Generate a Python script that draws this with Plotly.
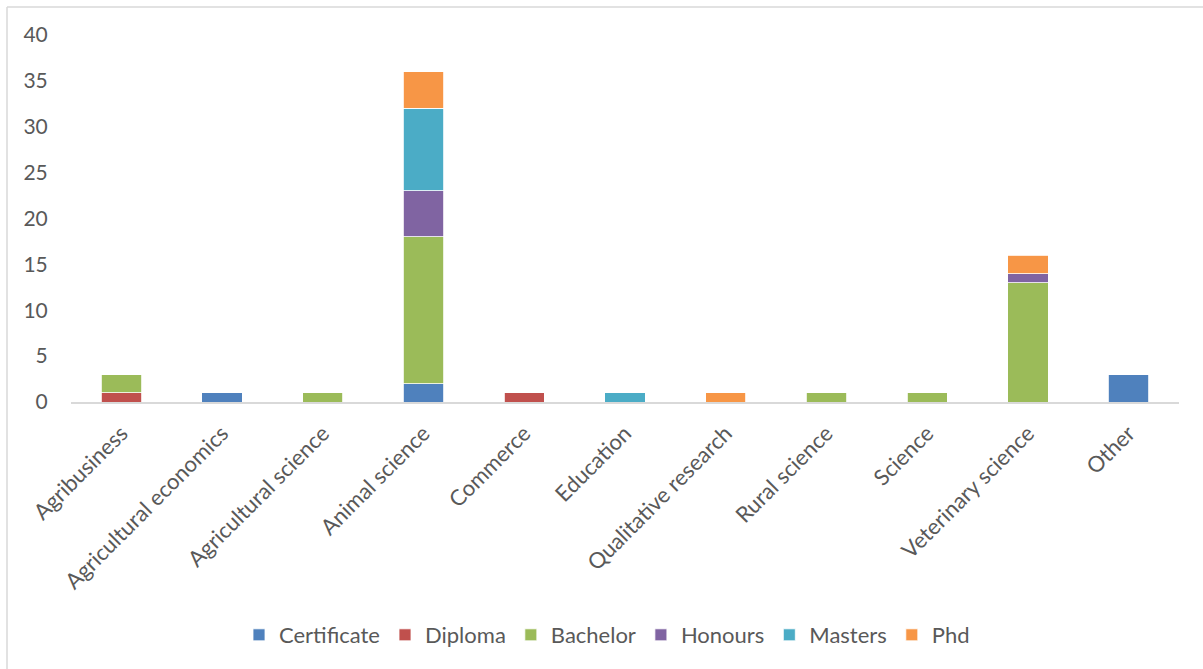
import plotly.graph_objects as go

# Field of study (categories on the x axis)
fields = [
    "Agribusiness", "Agricultural economics", "Agricultural science",
    "Animal science", "Commerce", "Education", "Qualitative research",
    "Rural science", "Science", "Veterinary science", "Other",
]

# Counts per qualification level, one value per field
certificate = [0, 1, 0, 2, 0, 0, 0, 0, 0, 0, 3]
diploma     = [1, 0, 0, 0, 1, 0, 0, 0, 0, 0, 0]
bachelor    = [2, 0, 1, 16, 0, 0, 0, 1, 1, 13, 0]
honours     = [0, 0, 0, 5, 0, 0, 0, 0, 0, 1, 0]
masters     = [0, 0, 0, 9, 0, 1, 0, 0, 0, 0, 0]
phd         = [0, 0, 0, 4, 0, 0, 1, 0, 0, 2, 0]

series_names = ["Certificate", "Diploma", "Bachelor", "Honours", "Masters", "Phd"]
series_values = [certificate, diploma, bachelor, honours, masters, phd]
series_colors = ["#4F81BD", "#C0504D", "#9BBB59", "#8064A2", "#4BACC6", "#F79646"]

FONT = "Lato"
TEXT = "#595959"

fig = go.Figure()
for name, vals, col in zip(series_names, series_values, series_colors):
    fig.add_trace(go.Bar(
        name=name, x=fields, y=vals,
        marker=dict(color=col, line=dict(color="white", width=0.8)),
    ))

# Plot area geometry in pixels (used for the frame around the chart)
W, H = 1203, 669
L, R, T, B = 71, 24, 35, 267
pw, ph = W - L - R, H - T - B

def px_x(x):
    return (x - L) / pw

def px_y(y):
    return (H - B - y) / ph

frame = "#D9D9D9"
fig.add_shape(type="line", xref="paper", yref="paper",
              x0=px_x(7), x1=px_x(W + 5), y0=px_y(7), y1=px_y(7),
              line=dict(color=frame, width=1.5))
fig.add_shape(type="line", xref="paper", yref="paper",
              x0=px_x(7), x1=px_x(7), y0=px_y(7), y1=px_y(H + 5),
              line=dict(color=frame, width=1.5))

fig.update_layout(
    width=W, height=H,
    barmode="stack",
    bargap=0.6,
    plot_bgcolor="white", paper_bgcolor="white",
    margin=dict(l=L, r=R, t=T, b=B, pad=0),
    font=dict(family=FONT, size=20, color=TEXT),
    showlegend=True,
    legend=dict(
        orientation="h", x=px_x(607), xanchor="center", y=px_y(635), yanchor="middle",
        font=dict(family=FONT, size=22, color=TEXT),
        itemwidth=30, traceorder="normal",
    ),
    xaxis=dict(
        tickangle=-45, showgrid=False, showline=True, linecolor="#D9D9D9",
        linewidth=1.7, ticks="outside", ticklen=8, tickcolor="rgba(0,0,0,0)",
        tickfont=dict(family=FONT, size=22, color=TEXT),
    ),
    yaxis=dict(
        range=[0, 40], dtick=5, showgrid=False, showline=False, zeroline=False,
        ticks="outside", ticklen=18, tickcolor="rgba(0,0,0,0)",
        tickfont=dict(family=FONT, size=21, color=TEXT),
    ),
)

fig.write_html("out.html")
